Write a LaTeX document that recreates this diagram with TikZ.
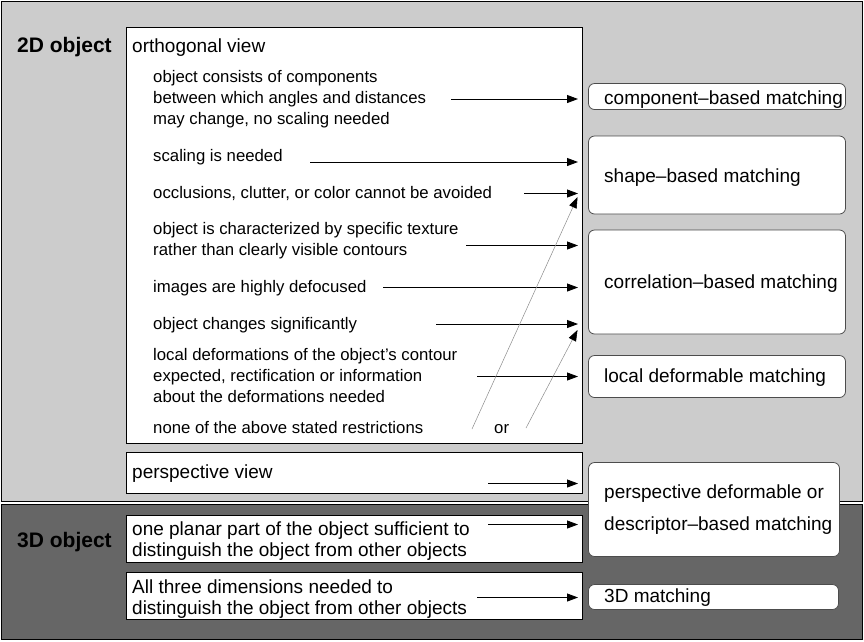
\documentclass[tikz,border=0pt]{standalone}
\usepackage{fontspec}
\setmainfont{Liberation Sans}
\usetikzlibrary{arrows.meta}
\definecolor{topgray}{RGB}{204,204,204}
\definecolor{botgray}{RGB}{102,102,102}
\begin{document}
\begin{tikzpicture}[x=1pt,y=-1pt,
  region/.style={draw=black, line width=1pt},
  leftbox/.style={draw=black, fill=white, line width=0.9pt, anchor=north west, inner sep=0pt, outer sep=0pt},
  resbox/.style={draw=black!70, fill=white, line width=0.8pt, rounded corners=6pt, anchor=north west, inner sep=0pt, outer sep=0pt},
  arr/.style={line width=0.9pt, -{Triangle[length=11pt,width=8pt]}},
  garr/.style={draw=black!45, line width=0.5pt, -{Triangle[length=11pt,width=8pt,color=black,fill=black]}},
  maintxt/.style={anchor=base west, inner sep=0pt, font=\fontsize{19}{21}\selectfont},
  subtxt/.style={anchor=base west, inner sep=0pt, font=\fontsize{16.75}{21}\selectfont},
  headtxt/.style={anchor=base west, inner sep=0pt, font=\fontsize{21}{24}\selectfont\bfseries},
]
\useasboundingbox (0,0) rectangle (864,641);

% regions
\draw[region, fill=topgray] (1.5,1.5) rectangle (862.5,501.5);
\draw[region, fill=botgray] (1.5,504.5) rectangle (862.5,639.5);

\node[headtxt] (h2d) at (17,52) {2D object};
\node[headtxt] (h3d) at (17,547) {3D object};

% left boxes
\node[leftbox, minimum width=456pt, minimum height=416pt] (ortho) at (126.5,27.5) {};
\node[leftbox, minimum width=456pt, minimum height=41pt] (persp) at (126.5,452.5) {};
\node[leftbox, minimum width=456pt, minimum height=47pt] (planar) at (126.5,515.5) {};
\node[leftbox, minimum width=456pt, minimum height=47pt] (three) at (126.5,572.5) {};

% result boxes
\node[resbox, minimum width=257pt, minimum height=26pt] (comp) at (588.5,83.5) {};
\node[resbox, minimum width=257pt, minimum height=78pt] (shape) at (588.5,136) {};
\node[resbox, minimum width=257pt, minimum height=104pt] (corr) at (588.5,230) {};
\node[resbox, minimum width=257pt, minimum height=42pt] (local) at (588.5,355.5) {};
\node[resbox, minimum width=251pt, minimum height=94pt] (pdesc) at (588.5,462.5) {};
\node[resbox, minimum width=250pt, minimum height=25pt] (m3d) at (588.5,584.5) {};

% result texts
\node[maintxt] (tcomp) at (604,104) {component–based matching};
\node[maintxt] (tshape) at (604,182) {shape–based matching};
\node[maintxt] (tcorr) at (604,288) {correlation–based matching};
\node[maintxt] (tlocal) at (604,382) {local deformable matching};
\node[maintxt] (tpd1) at (604,498.5) {perspective deformable or};
\node[maintxt] (tpd2) at (604,530) {descriptor–based matching};
\node[maintxt] (t3d) at (604,602) {3D matching};

% left texts
\node[maintxt] (tortho) at (132,52) {orthogonal view};
\node[subtxt] (c1a) at (153,82.5) {object consists of components};
\node[subtxt] (c1b) at (153,103.5) {between which angles and distances};
\node[subtxt] (c1c) at (153,124.5) {may change, no scaling needed};
\node[subtxt] (c2) at (153,161.5) {scaling is needed};
\node[subtxt] (c3) at (153,198.5) {occlusions, clutter, or color cannot be avoided};
\node[subtxt] (c4a) at (153,234.5) {object is characterized by specific texture};
\node[subtxt] (c4b) at (153,255.5) {rather than clearly visible contours};
\node[subtxt] (c5) at (153,292) {images are highly defocused};
\node[subtxt] (c6) at (153,329) {object changes significantly};
\node[subtxt] (c7a) at (153,360.5) {local deformations of the object’s contour};
\node[subtxt] (c7b) at (153,381.5) {expected, rectification or information};
\node[subtxt] (c7c) at (153,402.5) {about the deformations needed};
\node[subtxt] (c8) at (153,433) {none of the above stated restrictions};
\node[subtxt] (cor) at (494,433) {or};
\node[maintxt] (tpersp) at (132,478) {perspective view};
\node[maintxt] (tpl1) at (132,535) {one planar part of the object sufficient to};
\node[maintxt] (tpl2) at (132,556) {distinguish the object from other objects};
\node[maintxt] (tth1) at (132,593) {All three dimensions needed to};
\node[maintxt] (tth2) at (132,614) {distinguish the object from other objects};

% arrow end points
\coordinate (s1) at (451,99);   \coordinate (e1) at (578,99);
\coordinate (s2) at (310,162);  \coordinate (e2) at (578,162);
\coordinate (s3) at (524,193.5);\coordinate (e3) at (578,193.5);
\coordinate (s4) at (466,245.5);\coordinate (e4) at (578,245.5);
\coordinate (s5) at (383,287.5);\coordinate (e5) at (578,287.5);
\coordinate (s6) at (436,324);  \coordinate (e6) at (578,324);
\coordinate (s7) at (477,376.5);\coordinate (e7) at (578,376.5);
\coordinate (s8) at (472,429);  \coordinate (e8) at (577.5,197);
\coordinate (s9) at (526,428);  \coordinate (e9) at (577.5,330);
\coordinate (s10) at (488,483.5);\coordinate (e10) at (578,483.5);
\coordinate (s11) at (488,524.5);\coordinate (e11) at (578,524.5);
\coordinate (s12) at (477,597.5);\coordinate (e12) at (578,597.5);

\draw[arr] (s1) -- (e1);
\draw[arr] (s2) -- (e2);
\draw[arr] (s3) -- (e3);
\draw[arr] (s4) -- (e4);
\draw[arr] (s5) -- (e5);
\draw[arr] (s6) -- (e6);
\draw[arr] (s7) -- (e7);
\draw[garr] (s8) -- (e8);
\draw[garr] (s9) -- (e9);
\draw[arr] (s10) -- (e10);
\draw[arr] (s11) -- (e11);
\draw[arr] (s12) -- (e12);
\end{tikzpicture}
\end{document}
